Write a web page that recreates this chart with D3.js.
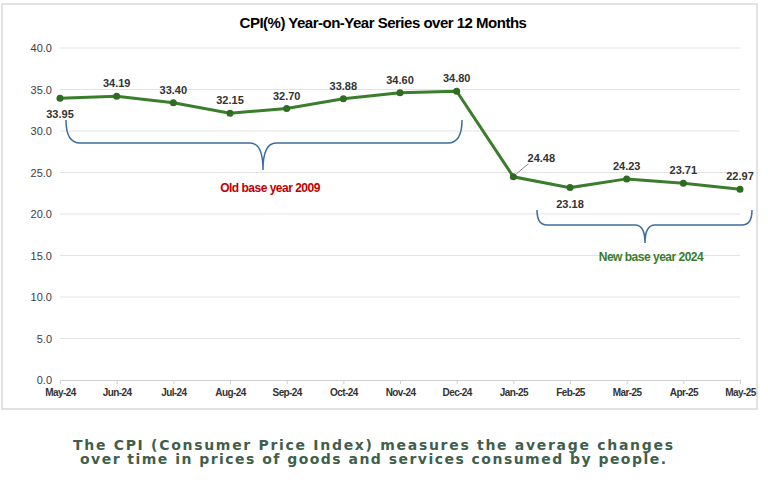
<!DOCTYPE html>
<html><head><meta charset="utf-8">
<script src="https://cdn.jsdelivr.net/npm/d3@7"></script>
<style>body{margin:0;background:#fff;font-family:Arial,"Liberation Sans",sans-serif}</style>
</head><body><div id="chart"></div>
<script>
const months = ["May-24","Jun-24","Jul-24","Aug-24","Sep-24","Oct-24","Nov-24","Dec-24","Jan-25","Feb-25","Mar-25","Apr-25","May-25"];
const cpi = [33.95,34.19,33.40,32.15,32.70,33.88,34.60,34.80,24.48,23.18,24.23,23.71,22.97];
const yTicks = [0,5,10,15,20,25,30,35,40];
// label offsets: above (-1) or below (+1)
const labelPos = [1,-1,-1,-1,-1,-1,-1,-1,-1,1,-1,-1,-1];

const W = 768, H = 484;
const svg = d3.select("#chart").append("svg").attr("width", W).attr("height", H);

svg.append("rect").attr("x", 2).attr("y", 4).attr("width", 755).attr("height", 405)
  .attr("fill", "none").attr("stroke", "#d9d9d9").attr("stroke-width", 1.5);

const x = d3.scalePoint().domain(months).range([60, 740]);
const y = d3.scaleLinear().domain([0, 40]).range([380, 48]);

svg.append("text").attr("x", 383).attr("y", 28).attr("text-anchor", "middle")
  .style("font-size", "15px").style("font-weight", "bold").style("letter-spacing", "-0.5px")
  .text("CPI(%) Year-on-Year Series over 12 Months");

// grid
svg.append("g").selectAll("line").data(yTicks.filter(d => d > 0)).join("line")
  .attr("x1", 60).attr("x2", 740).attr("y1", d => y(d)).attr("y2", d => y(d))
  .attr("stroke", "#e3e3e3");

const yAxis = svg.append("g").attr("transform", "translate(55,0)")
  .call(d3.axisLeft(y).tickValues(yTicks).tickFormat(d3.format(".1f")).tickSize(0));
yAxis.select(".domain").remove();
yAxis.selectAll("text").style("font-size", "11px").attr("fill", "#404040").attr("font-family", "Arial");

const xAxis = svg.append("g").attr("transform", `translate(0,${y(0)})`)
  .call(d3.axisBottom(x).tickSize(4));
xAxis.select(".domain").attr("stroke", "#d0d0d0");
xAxis.selectAll(".tick line").attr("stroke", "#d0d0d0");
xAxis.selectAll("text").style("font-size", "10px").style("font-weight", "bold")
  .style("letter-spacing", "-0.6px").attr("fill", "#333").attr("dy", "0.9em").attr("font-family", "Arial");

const line = d3.line().x((d, i) => x(months[i])).y(d => y(d));
svg.append("path").datum(cpi).attr("d", line).attr("fill", "none")
  .attr("stroke", "#3a7d2c").attr("stroke-width", 3);
svg.append("g").selectAll("circle").data(cpi).join("circle")
  .attr("cx", (d, i) => x(months[i])).attr("cy", d => y(d)).attr("r", 3.5).attr("fill", "#2f6b22");

// Jan-25 label sits off to the right with a leader line
const jan = 8;
svg.append("line").attr("x1", x(months[jan]) + 3).attr("y1", y(cpi[jan]) - 3)
  .attr("x2", x(months[jan]) + 15).attr("y2", y(cpi[jan]) - 13).attr("stroke", "#888");

svg.append("g").selectAll("text").data(cpi).join("text")
  .attr("x", (d, i) => x(months[i]) + (i === jan ? 28 : 0))
  .attr("y", (d, i) => i === jan ? y(d) - 15 : y(d) + (labelPos[i] > 0 ? 20 : -9))
  .attr("text-anchor", "middle").style("font-size", "11px").style("font-weight", "bold")
  .attr("fill", "#333").text(d => d.toFixed(2));

// braces
const brace = "#3c6e9c";
svg.append("path").attr("fill", "none").attr("stroke", brace).attr("stroke-width", 1.5)
  .attr("d", "M66,120 Q66,143 80,143 L250,143 Q263,143 263,170 Q263,143 276,143 L448,143 Q462,143 462,120");
svg.append("text").attr("x", 270).attr("y", 192).attr("text-anchor", "middle")
  .style("font-size", "12px").style("font-weight", "bold").style("letter-spacing", "-0.5px")
  .attr("fill", "#c00000").text("Old base year 2009");

svg.append("path").attr("fill", "none").attr("stroke", brace).attr("stroke-width", 1.5)
  .attr("d", "M537,210 Q537,225 547,225 L635,225 Q645,225 645,243 Q645,225 655,225 L742,225 Q752,225 752,210");
svg.append("text").attr("x", 651).attr("y", 261).attr("text-anchor", "middle")
  .style("font-size", "12px").style("font-weight", "bold").style("letter-spacing", "-0.5px")
  .attr("fill", "#3a7d2c").text("New base year 2024");

svg.append("g").selectAll("text")
  .data(["The CPI (Consumer Price Index) measures the average changes",
         "over time in prices of goods and services consumed by people."]).join("text")
  .attr("x", 373).attr("y", (d, i) => 450 + i * 14).attr("text-anchor", "middle")
  .attr("textLength", (d, i) => i === 0 ? 600 : 586).attr("lengthAdjust", "spacing")
  .style("font-family", "Verdana, 'DejaVu Sans', sans-serif").style("font-size", "14px")
  .style("font-weight", "bold").attr("fill", "#3f5f4c").text(d => d);
</script></body></html>
